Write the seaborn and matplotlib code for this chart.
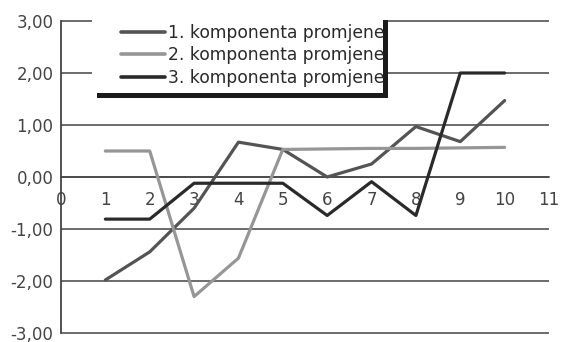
import matplotlib
matplotlib.use("Agg")
import matplotlib.pyplot as plt
from matplotlib.patches import Rectangle
import numpy as np
import pandas as pd
import seaborn as sns

# Time points and the three change components
x_values = [1, 2, 3, 4, 5, 6, 7, 8, 9, 10]
komponenta_1 = [-1.98, -1.44, -0.60, 0.67, 0.53, 0.00, 0.25, 0.97, 0.68, 1.47]
komponenta_2 = [0.50, 0.50, -2.30, -1.56, 0.53, 0.54, 0.55, 0.55, 0.56, 0.57]
komponenta_3 = [-0.81, -0.81, -0.12, -0.12, -0.12, -0.74, -0.09, -0.74, 2.00, 2.00]

series_labels = ["1. komponenta promjene", "2. komponenta promjene", "3. komponenta promjene"]
series_colors = ["#545454", "#969696", "#2a2a2a"]

x_ticks = list(range(0, 12))
x_tick_labels = [str(t) for t in x_ticks]
y_ticks = [-3, -2, -1, 0, 1, 2, 3]
y_tick_labels = ["-3,00", "-2,00", "-1,00", "0,00", "1,00", "2,00", "3,00"]

df = pd.DataFrame({
    "x": x_values * 3,
    "vrijednost": komponenta_1 + komponenta_2 + komponenta_3,
    "serija": sum([[lab] * len(x_values) for lab in series_labels], []),
})

sns.set_style("white")
plt.rcParams["font.family"] = ["DejaVu Sans"]

W, H = 562, 342
fig = plt.figure(figsize=(W / 100, H / 100), dpi=100)
ax = fig.add_axes([61 / W, 1 - 333 / H, (549 - 61) / W, (333 - 21) / H])

ink = "#444444"

# horizontal reference lines
ax.hlines(y_ticks, 0, 11, colors=ink, linewidth=1.1, clip_on=False, zorder=1)

sns.lineplot(data=df, x="x", y="vrijednost", hue="serija", hue_order=series_labels,
             palette=series_colors, linewidth=2.3, legend=False, ax=ax, zorder=3)

ax.set_xlim(0, 11)
ax.set_ylim(-3, 3)
ax.set_xticks(x_ticks)
ax.set_xticklabels(x_tick_labels)
ax.set_yticks(y_ticks)
ax.set_yticklabels(y_tick_labels)
ax.set_xlabel("")
ax.set_ylabel("")

for side in ["top", "right"]:
    ax.spines[side].set_visible(False)
ax.spines["bottom"].set_position(("data", 0))
ax.spines["left"].set_color(ink)
ax.spines["left"].set_linewidth(1.3)
ax.spines["bottom"].set_color(ink)
ax.spines["bottom"].set_linewidth(1.1)
ax.spines["left"].set_clip_on(False)

ax.tick_params(axis="x", direction="inout", length=6.5, width=1.0, color=ink,
               labelsize=12, labelcolor=ink, pad=7)
ax.tick_params(axis="y", direction="out", length=4.5, width=1.0, color=ink,
               labelsize=12, labelcolor=ink, pad=1)
ax.patch.set_alpha(0)

# legend box with a solid drop shadow
tf = fig.transFigure
ax.add_artist(Rectangle((97 / W, 1 - 98 / H), (388 - 97) / W, (98 - 20) / H,
                        transform=tf, facecolor="#1a1a1a", edgecolor="none",
                        zorder=4.8, clip_on=False))
ax.add_artist(Rectangle((92 / W, 1 - 93 / H), (383 - 92) / W, (93 - 12) / H,
                        transform=tf, facecolor="white", edgecolor="none",
                        zorder=4.9, clip_on=False))

leg = ax.legend(ax.lines[:3], series_labels, loc="upper left",
                bbox_to_anchor=(121 / W, 1 - 24 / H), bbox_transform=tf,
                frameon=False, borderpad=0, borderaxespad=0,
                handlelength=2.6, handletextpad=0.15, labelspacing=0.26,
                fontsize=12.3)
for t in leg.get_texts():
    t.set_color("#2a2a2a")
for h in leg.get_lines():
    h.set_linewidth(2.6)
leg.set_zorder(6)

fig.savefig("out.png", dpi=100)
